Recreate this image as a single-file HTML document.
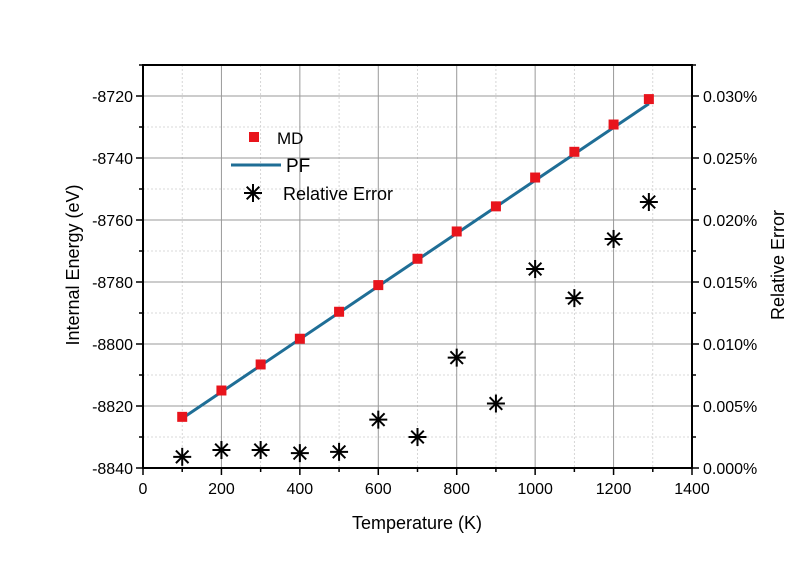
<!DOCTYPE html>
<html><head><meta charset="utf-8"><style>
body{margin:0;background:#fff;}
svg text{font-family:"Liberation Sans",Arial,sans-serif;fill:#000;}
</style></head><body>
<svg id="chart" width="804" height="562" xmlns="http://www.w3.org/2000/svg">
<g id="grid"></g>
<g id="axes"></g>
<g id="marks"></g>
<text x="417" y="529" font-size="18" text-anchor="middle">Temperature (K)</text>
<text transform="translate(79,265) rotate(-90)" font-size="18" text-anchor="middle">Internal Energy (eV)</text>
<text transform="translate(784,265) rotate(-90)" font-size="18" text-anchor="middle">Relative Error</text>
<g>
<rect x="249" y="132" width="10" height="10" fill="#e8141c"/>
<text x="277" y="144" font-size="17">MD</text>
<line x1="231" y1="165" x2="281" y2="165" stroke="#1f6e96" stroke-width="3"/>
<text x="286" y="172" font-size="19">PF</text>
<g id="legstar"></g>
<text x="283" y="200" font-size="18">Relative Error</text>
</g>
</svg>
<script>
const temps=[100,200,300,400,500,600,700,800,900,1000,1100,1200,1290];
const mdValues=[-8823.5,-8815,-8806.6,-8798.3,-8789.6,-8781,-8772.5,-8763.7,-8755.6,-8746.3,-8738,-8729.2,-8721];
const pfStart=[100,-8824];
const pfEnd=[1290,-8722.5];
const relError=[0.0009,0.00145,0.00145,0.0012,0.0013,0.0039,0.0025,0.0089,0.0052,0.01605,0.0137,0.01847,0.02145];
const xTicks=[0,200,400,600,800,1000,1200,1400];
const yTicks=[-8840,-8820,-8800,-8780,-8760,-8740,-8720];
const rTicks=[0,0.005,0.01,0.015,0.02,0.025,0.03];

const L=143,R=692,T=65,B=468;
const x=v=>L+v*(R-L)/1400;
const y=v=>B-(v+8840)*3.1;
const yr=v=>B-v*12400;
const NS="http://www.w3.org/2000/svg";
function mk(parent,tag,attrs){const e=document.createElementNS(NS,tag);for(const k in attrs)e.setAttribute(k,attrs[k]);document.getElementById(parent).appendChild(e);return e;}
for(let v=100;v<1400;v+=200){const e=mk('grid','line',{x1:x(v),x2:x(v),y1:T,y2:B,stroke:'#ccc','stroke-dasharray':'2,2','stroke-width':0.8});

}
for(let v=-8830;v<-8705;v+=20){const e=mk('grid','line',{x1:L,x2:R,y1:y(v),y2:y(v),stroke:'#ccc','stroke-dasharray':'2,2','stroke-width':0.8});

}
xTicks.slice(1,-1).forEach(v=>{const e=mk('grid','line',{x1:x(v),x2:x(v),y1:T,y2:B,stroke:'#999','stroke-width':1});

});
yTicks.slice(1).forEach(v=>{const e=mk('grid','line',{x1:L,x2:R,y1:y(v),y2:y(v),stroke:'#999','stroke-width':1});

});
const fr=mk('axes','rect',{x:L,y:T,width:R-L,height:B-T,fill:'none',stroke:'#000','stroke-width':2});


for(let v=0;v<=1400;v+=100){const e=mk('axes','line',{x1:x(v),x2:x(v),y1:B,y2:B+(v%200?4:7),stroke:'#000','stroke-width':1.5});

}
xTicks.forEach(v=>{const t=mk('axes','text',{x:x(v),y:B+26,'font-size':16,'text-anchor':'middle'});t.textContent=v;

});
for(let v=-8840;v<=-8710;v+=10){const e=mk('axes','line',{x1:L,x2:L-((v+8840)%20?4:7),y1:y(v),y2:y(v),stroke:'#000','stroke-width':1.5});

}
yTicks.forEach(v=>{const t=mk('axes','text',{x:L-10,y:y(v)+6,'font-size':16,'text-anchor':'end'});t.textContent=v;

});
for(let i=0;i<=13;i++){const v=i*0.0025;const e=mk('axes','line',{x1:R,x2:R+(i%2?4:7),y1:yr(v),y2:yr(v),stroke:'#000','stroke-width':1.5});

}
rTicks.forEach(v=>{const t=mk('axes','text',{x:R+11,y:yr(v)+6,'font-size':16});t.textContent=v.toFixed(3)+'%';

});
const pf=mk('marks','line',{x1:x(pfStart[0]),y1:y(pfStart[1]),x2:x(pfEnd[0]),y2:y(pfEnd[1]),stroke:'#1f6e96','stroke-width':3});


temps.forEach((t,i)=>{const e=mk('marks','rect',{x:x(t)-5,y:y(mdValues[i])-5,width:10,height:10,fill:'#e8141c'});

});
function star(parent,cx,cy){const g=mk(parent,'g',{stroke:'#000','stroke-width':2});const r=9;
[[0,r],[r,0],[r*0.7,r*0.7],[r*0.7,-r*0.7]].forEach(([dx,dy])=>{const l=document.createElementNS(NS,'line');
l.setAttribute('x1',cx-dx);l.setAttribute('y1',cy-dy);l.setAttribute('x2',cx+dx);l.setAttribute('y2',cy+dy);g.appendChild(l);});return g;}
temps.forEach((t,i)=>{const g=star('marks',x(t),yr(relError[i]));

});
star('legstar',253,193);
</script>
</body></html>
